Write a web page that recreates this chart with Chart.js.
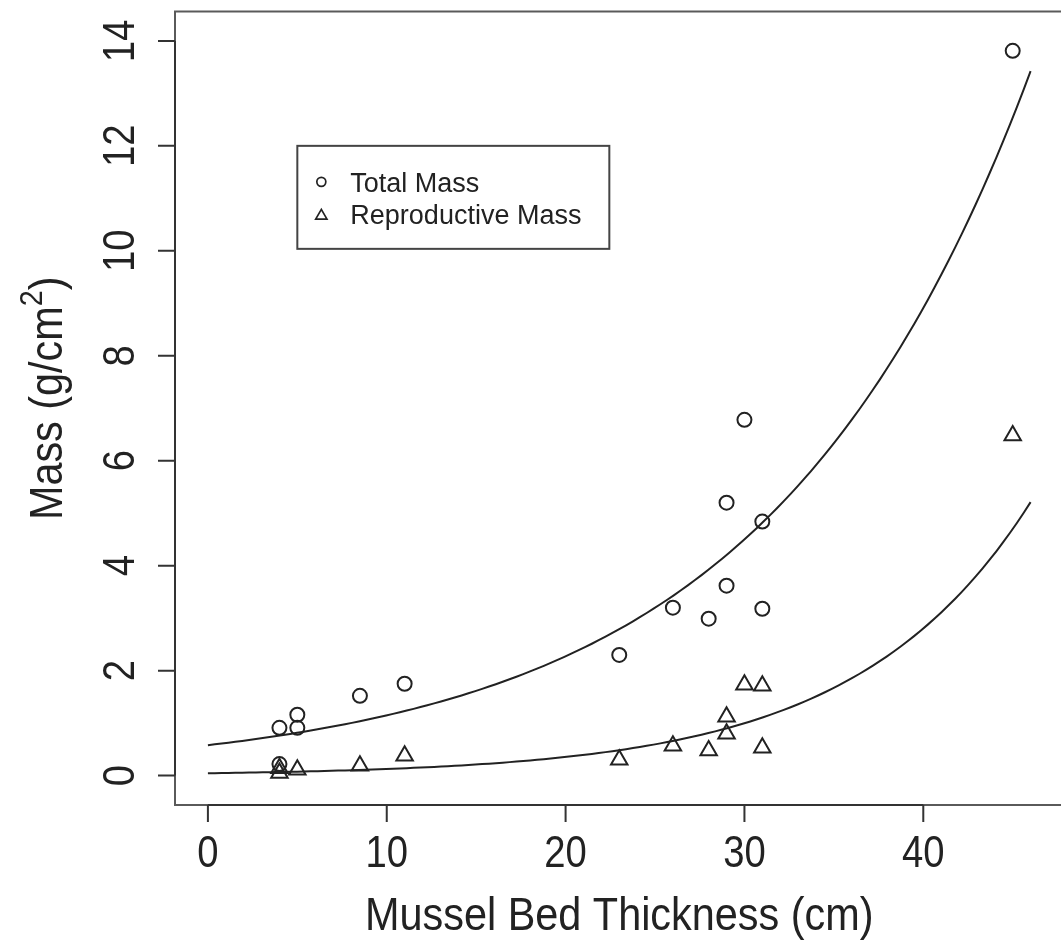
<!DOCTYPE html>
<html>
<head>
<meta charset="utf-8">
<title>Mussel bed mass</title>
<script src="https://cdn.jsdelivr.net/npm/chart.js@4.4.1/dist/chart.umd.min.js"></script>
<style>
  html, body { margin: 0; padding: 0; background: #fff; overflow: hidden; }
  #plot { display: block; }
</style>
</head>
<body>
<canvas id="plot" width="1075" height="947"></canvas>
<script>
// total mass per sample
var totalX = [4, 4, 5, 5, 8.5, 11, 23, 26, 28, 29, 29, 30, 31, 31, 45];
var totalY = [0.91, 0.22, 1.16, 0.91, 1.52, 1.75, 2.30, 3.20, 2.99, 3.62, 5.20, 6.78, 4.84, 3.18, 13.81];

// reproductive mass per sample
var reproX = [4, 4, 5, 8.5, 11, 23, 26, 28, 29, 29, 30, 31, 31, 45];
var reproY = [0.14, 0.05, 0.11, 0.19, 0.38, 0.30, 0.57, 0.48, 1.12, 0.80, 1.73, 1.71, 0.53, 6.48];

// exponential fits  y = a * exp(b * x)
var totalFit = [0.58, 0.0683];
var reproFit = [0.045, 0.1033];
var fitRange = [0, 46];

var xTicks = [0, 10, 20, 30, 40];
var yTicks = [0, 2, 4, 6, 8, 10, 12, 14];

var seriesNames = ['Total Mass', 'Reproductive Mass'];
var xTitle = 'Mussel Bed Thickness (cm)';

var FONT = '"Liberation Sans", Arial, sans-serif';
var INK = '#222';

function pts(xs, ys) {
  return xs.map(function (x, i) { return { x: x, y: ys[i] }; });
}

function fitCurve(c) {
  var out = [];
  for (var i = 0; i <= 120; i++) {
    var x = fitRange[0] + (fitRange[1] - fitRange[0]) * i / 120;
    out.push({ x: x, y: c[0] * Math.exp(c[1] * x) });
  }
  return out;
}

// text with a slight horizontal squeeze, like the R device output
function label(ctx, s, x, y, size, sx, rot, align) {
  ctx.save();
  ctx.translate(x, y);
  if (rot) ctx.rotate(rot);
  ctx.scale(sx, 1);
  ctx.font = size + 'px ' + FONT;
  ctx.textAlign = align || 'center';
  ctx.textBaseline = 'alphabetic';
  ctx.fillStyle = INK;
  ctx.fillText(s, 0, 0);
  ctx.restore();
}

function circleMark(ctx, x, y, r) {
  ctx.beginPath();
  ctx.arc(x, y, r, 0, Math.PI * 2);
  ctx.stroke();
}

function triangleMark(ctx, x, y, r) {
  ctx.beginPath();
  for (var k = 0; k < 3; k++) {
    var a = k * 2 * Math.PI / 3;
    var px = x + Math.sin(a) * r, py = y - Math.cos(a) * r;
    if (k === 0) ctx.moveTo(px, py); else ctx.lineTo(px, py);
  }
  ctx.closePath();
  ctx.stroke();
}

// base-graphics style frame, axes, titles and legend
var rFrame = {
  id: 'rFrame',
  afterDraw: function (chart) {
    var ctx = chart.ctx, a = chart.chartArea;
    var xs = chart.scales.x, ys = chart.scales.y;
    ctx.save();

    ctx.strokeStyle = '#5a5a5a';
    ctx.lineWidth = 2;
    ctx.strokeRect(a.left, a.top, a.right - a.left, a.bottom - a.top);

    ctx.strokeStyle = '#333';
    ctx.lineWidth = 2;
    ctx.beginPath();
    ctx.moveTo(xs.getPixelForValue(xTicks[0]), a.bottom);
    ctx.lineTo(xs.getPixelForValue(xTicks[xTicks.length - 1]), a.bottom);
    xTicks.forEach(function (t) {
      var px = xs.getPixelForValue(t);
      ctx.moveTo(px, a.bottom);
      ctx.lineTo(px, a.bottom + 17);
    });
    ctx.moveTo(a.left, ys.getPixelForValue(yTicks[0]));
    ctx.lineTo(a.left, ys.getPixelForValue(yTicks[yTicks.length - 1]));
    yTicks.forEach(function (t) {
      var py = ys.getPixelForValue(t);
      ctx.moveTo(a.left, py);
      ctx.lineTo(a.left - 17, py);
    });
    ctx.stroke();

    xTicks.forEach(function (t) {
      label(ctx, String(t), xs.getPixelForValue(t), 867, 45, 0.85);
    });
    yTicks.forEach(function (t) {
      label(ctx, String(t), 134, ys.getPixelForValue(t), 45, 0.85, -Math.PI / 2);
    });

    // axis titles
    label(ctx, xTitle, (a.left + a.right) / 2, 930, 46, 0.9);

    ctx.save();
    ctx.translate(62, (a.top + a.bottom) / 2 - 10);
    ctx.rotate(-Math.PI / 2);
    ctx.scale(0.9, 1);
    ctx.fillStyle = INK;
    ctx.textBaseline = 'alphabetic';
    ctx.textAlign = 'left';
    var big = '46px ' + FONT, small = '32px ' + FONT;
    ctx.font = big;
    var w1 = ctx.measureText('Mass (g/cm').width, w3 = ctx.measureText(')').width;
    ctx.font = small;
    var w2 = ctx.measureText('2').width;
    var x0 = -(w1 + w2 + w3) / 2;
    ctx.font = big;
    ctx.fillText('Mass (g/cm', x0, 0);
    ctx.font = small;
    ctx.fillText('2', x0 + w1, -20);
    ctx.font = big;
    ctx.fillText(')', x0 + w1 + w2, 0);
    ctx.restore();

    // legend, anchored at data point (5, 12)
    var lx = xs.getPixelForValue(5), ly = ys.getPixelForValue(12);
    ctx.strokeStyle = '#444';
    ctx.lineWidth = 2;
    ctx.strokeRect(lx, ly, 312, 103);
    ctx.strokeStyle = INK;
    ctx.lineWidth = 1.7;
    circleMark(ctx, lx + 24, ly + 36, 4.5);
    triangleMark(ctx, lx + 24, ly + 70, 6.5);
    label(ctx, seriesNames[0], lx + 53, ly + 46, 27, 1, 0, 'left');
    label(ctx, seriesNames[1], lx + 53, ly + 78, 27, 1, 0, 'left');

    ctx.restore();
  }
};

new Chart(document.getElementById('plot'), {
  type: 'scatter',
  data: {
    datasets: [
      {
        label: seriesNames[0],
        data: pts(totalX, totalY),
        pointStyle: 'circle',
        pointRadius: 7,
        borderColor: INK,
        borderWidth: 2,
        backgroundColor: 'rgba(0,0,0,0)'
      },
      {
        label: seriesNames[1],
        data: pts(reproX, reproY),
        pointStyle: 'triangle',
        pointRadius: 9.5,
        borderColor: INK,
        borderWidth: 2,
        backgroundColor: 'rgba(0,0,0,0)'
      },
      {
        label: 'fit total',
        data: fitCurve(totalFit),
        showLine: true,
        pointRadius: 0,
        borderColor: INK,
        borderWidth: 2,
        tension: 0
      },
      {
        label: 'fit reproductive',
        data: fitCurve(reproFit),
        showLine: true,
        pointRadius: 0,
        borderColor: INK,
        borderWidth: 2,
        tension: 0
      }
    ]
  },
  options: {
    responsive: false,
    animation: false,
    devicePixelRatio: 1,
    layout: { padding: { left: 175, right: 4, top: 10, bottom: 142 } },
    scales: {
      x: { type: 'linear', min: -1.84, max: 47.84, display: false },
      y: { type: 'linear', min: -0.56, max: 14.56, display: false }
    },
    plugins: {
      legend: { display: false },
      tooltip: { enabled: false }
    }
  },
  plugins: [rFrame]
});
</script>
</body>
</html>
